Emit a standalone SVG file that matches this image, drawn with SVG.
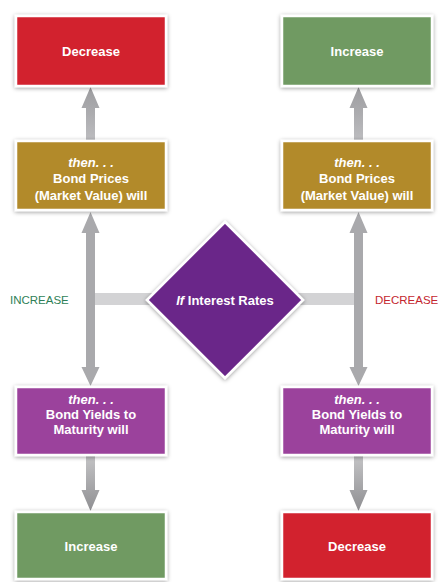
<svg xmlns="http://www.w3.org/2000/svg" width="438" height="582" viewBox="0 0 438 582">
<defs>
<filter id="sh" x="-20%" y="-20%" width="140%" height="140%">
<feDropShadow dx="0" dy="1" stdDeviation="2.2" flood-color="#000" flood-opacity="0.4"/>
</filter>
<linearGradient id="gv" x1="0" y1="0" x2="0" y2="1">
<stop offset="0" stop-color="#9c9c9f"/>
<stop offset="1" stop-color="#bdbdc0"/>
</linearGradient>
<linearGradient id="gd" x1="0" y1="0" x2="0" y2="1">
<stop offset="0" stop-color="#c4c4c6"/>
<stop offset="1" stop-color="#8f8f92"/>
</linearGradient>
</defs>
<style>
.box{stroke:#fff;stroke-width:2.5;filter:url(#sh)}
.red{fill:#d2212f}
.green{fill:#6f9a62}
.gold{fill:#b28a2c}
.purple{fill:#9b429c}
.dia{fill:#6b2589}
.t{font-family:"Liberation Sans",Arial,sans-serif;font-weight:bold;font-size:13px;fill:#fff;text-anchor:middle;dominant-baseline:central}
.i{font-style:italic}
.lbl{font-family:"Liberation Sans",Arial,sans-serif;font-size:11.5px;dominant-baseline:central}
.bar{fill:#d3d3d5}
</style>
<g id="connectors">
<rect class="bar" x="94" y="293" width="58" height="12"/>
<rect class="bar" x="297" y="293" width="57" height="12"/>
<path fill="url(#gv)" d="M86,141 V108 H81.5 L90.5,87 L99.5,108 H95 V141 Z"/>
<path fill="url(#gv)" d="M354,141 V108 H349.5 L358.5,87 L367.5,108 H363 V141 Z"/>
<path fill="#a9a9ac" d="M86,367 V233 H81.5 L90.5,212 L99.5,233 H95 V367 H99.5 L90.5,386 L81.5,367 Z"/>
<path fill="#a9a9ac" d="M354,367 V233 H349.5 L358.5,212 L367.5,233 H363 V367 H367.5 L358.5,386 L349.5,367 Z"/>
<path fill="url(#gd)" d="M86,455 V490 H81.5 L90.5,511 L99.5,490 H95 V455 Z"/>
<path fill="url(#gd)" d="M354,455 V490 H349.5 L358.5,511 L367.5,490 H363 V455 Z"/>
</g>
<g id="top-left-decrease">
<rect class="box red" x="16" y="16" width="150" height="70"/>
<text class="t" x="91" y="51">Decrease</text>
</g>
<g id="top-right-increase">
<rect class="box green" x="282" y="16" width="150" height="70"/>
<text class="t" x="357" y="51">Increase</text>
</g>
<g id="left-bond-prices">
<rect class="box gold" x="16" y="141" width="150" height="69"/>
<text class="t i" x="91" y="162">then. . .</text>
<text class="t" x="91" y="178.5">Bond Prices</text>
<text class="t" x="91" y="195">(Market Value) will</text>
</g>
<g id="right-bond-prices">
<rect class="box gold" x="282" y="141" width="150" height="69"/>
<text class="t i" x="357" y="162">then. . .</text>
<text class="t" x="357" y="178.5">Bond Prices</text>
<text class="t" x="357" y="195">(Market Value) will</text>
</g>
<g id="diamond">
<path class="box dia" d="M225,222 L303,300 L225,378 L147,300 Z"/>
<text class="t" x="225" y="300"><tspan class="i">If</tspan> Interest Rates</text>
</g>
<g id="increase-label">
<text class="lbl" x="10" y="300" fill="#2f7f57">INCREASE</text>
</g>
<g id="decrease-label">
<text class="lbl" x="375" y="300" fill="#c4262e">DECREASE</text>
</g>
<g id="left-yields">
<rect class="box purple" x="16" y="387" width="150" height="68"/>
<text class="t i" x="91" y="399">then. . .</text>
<text class="t" x="91" y="414">Bond Yields to</text>
<text class="t" x="91" y="429">Maturity will</text>
</g>
<g id="right-yields">
<rect class="box purple" x="282" y="387" width="150" height="68"/>
<text class="t i" x="357" y="399">then. . .</text>
<text class="t" x="357" y="414">Bond Yields to</text>
<text class="t" x="357" y="429">Maturity will</text>
</g>
<g id="bottom-left-increase">
<rect class="box green" x="16" y="512" width="150" height="67"/>
<text class="t" x="91" y="546">Increase</text>
</g>
<g id="bottom-right-decrease">
<rect class="box red" x="282" y="512" width="150" height="67"/>
<text class="t" x="357" y="546">Decrease</text>
</g>
</svg>
